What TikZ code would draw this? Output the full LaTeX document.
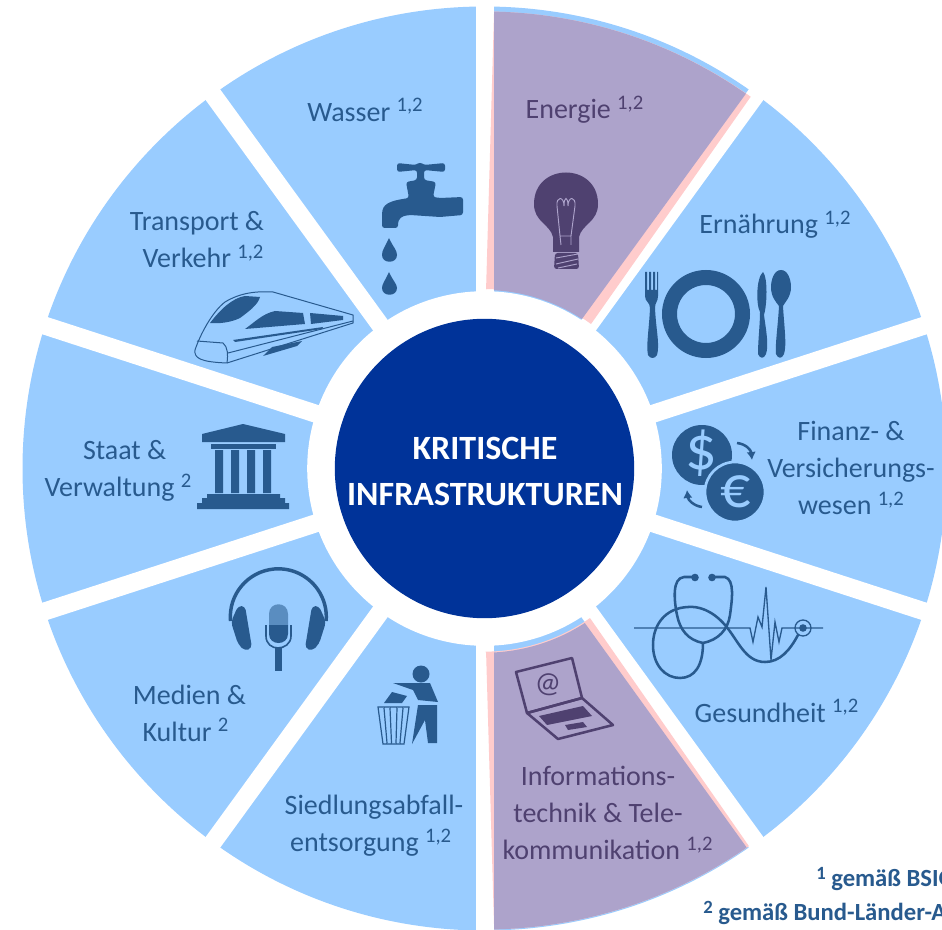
\documentclass[tikz,border=0pt]{standalone}
\usetikzlibrary{arrows.meta}
\usepackage{fontspec}
\setmainfont{Carlito}
\definecolor{seg}{HTML}{99CCFF}
\definecolor{pinkb}{HTML}{FFCCCC}
\definecolor{purp}{HTML}{ADA3CB}
\definecolor{purpd}{HTML}{4F4170}
\definecolor{ink}{HTML}{285A8E}
\definecolor{core}{HTML}{003399}
\newcommand{\hs}[1]{\raisebox{.33em}{\fontsize{15.5}{15.5}\selectfont #1}}
\tikzset{
  lbl/.style={align=center,inner sep=0pt,text=ink,font=\fontsize{21}{27.75}\selectfont},
  lblp/.style={lbl,text=purpd},
  gap/.style={white,line width=13.5pt},
  solid ink/.style={fill=ink,draw=none},
  thin ink/.style={draw=ink,line width=1.9pt,fill=none,line cap=round,line join=round},
  hair ink/.style={draw=ink,line width=.75pt,fill=none,line join=round},
  solid purp/.style={fill=purpd,draw=none},
  foot/.style={anchor=west,inner sep=0pt,text=ink,font=\bfseries\fontsize{18.5}{18.5}\selectfont},
}
\begin{document}
\begin{tikzpicture}[x=.75pt,y=-.75pt]
\useasboundingbox (0,0) rectangle (942,930);
\clip (0,0) rectangle (942,930);
\fill[white] (0,0) rectangle (942,930);
% wheel
\begin{scope}[shift={(484.5,468.5)}]
  \fill[seg] (0,0) circle[radius=462];
  \foreach \a in {90,54,18,-18,-54,-90,-126,-162,162,126} \draw[gap] (0,0) -- (\a:480);
  % Energie overlay
  \fill[pinkb] (-89.5:179) -- (-88.8:457) arc[start angle=-88.8,end angle=-54.5,radius=458.5] -- (-53.6:179.5) arc[start angle=-53.6,end angle=-89.5,radius=179.3] -- cycle;
  \fill[purp] (-86.9:178.5) -- (-88.8:457) arc[start angle=-88.8,end angle=-55.1,radius=457] -- (-56.9:178.5) arc[start angle=-56.9,end angle=-86.9,radius=178.5] -- cycle;
  % IT overlay
  \fill[pinkb] (89.5:184.5) -- (88.8:461) arc[start angle=88.8,end angle=55,radius=461] -- (54.8:183) arc[start angle=54.8,end angle=89.5,radius=184] -- cycle;
  \fill[purp] (87:184) -- (88.8:461) arc[start angle=88.8,end angle=55.3,radius=460.6] -- (57:184.2) arc[start angle=57,end angle=87,radius=184] -- cycle;
  % centre
  \fill[white] (0,0) circle[radius=177.3];
  \fill[core] (0,0) circle[radius=149.7];
\end{scope}
\node[align=center,inner sep=0pt,text=white,font=\bfseries\fontsize{25.5}{34.5}\selectfont] (centre) at (485,471) {KRITISCHE\\INFRASTRUKTUREN};
% labels
\node[lbl] (wasser) at (365,110) {Wasser \hs{1,2}};
\node[lblp] (energie) at (584.5,110) {Energie \hs{1,2}};
\node[lbl] (ernaehrung) at (775,225) {Ernährung \hs{1,2}};
\node[lbl] (transport) at (197,240) {Transport \&\\\hspace*{9pt}Verkehr \hs{1,2}};
\node[lbl] (staat) at (118,471) {\hspace*{10pt}Staat \&\\Verwaltung \hs{2}};
\node[lbl] (finanz) at (851,468) {Finanz- \&\\Versicherungs-\\wesen \hs{1,2}};
\node[lbl] (gesundheit) at (776.5,711) {Gesundheit \hs{1,2}};
\node[lblp] (info) at (598,813) {Informations-\\technik \& Tele-\\kommunikation\rlap{ \hs{1,2}}\hspace*{10pt}};
\node[lbl] (siedlung) at (374,826) {Siedlungsabfall-\\entsorgung \hs{1,2}\hspace*{5pt}};
\node[lbl] (medien) at (189.5,713) {Medien \&\\Kultur \hs{2}\hspace*{6pt}};
\node[foot] (fa) at (816,879) {\raisebox{.3em}{\fontsize{14}{14}\selectfont 1} gemäß BSIG};
\node[foot] (fb) at (703,913) {\raisebox{.3em}{\fontsize{14}{14}\selectfont 2} gemäß Bund-Länder-AG};
% tap
\fill[solid ink,rounded corners=2pt] (397,163) -- (416,165) -- (420,162) -- (424,165) -- (445,163) -- (445,172) -- (424,170) -- (424,180) -- (436,182) -- (433,197) -- (440,198) -- (463,197) -- (463,215) -- (440,217) -- (410,215) .. controls (402,216) and (398,218) .. (398,228) -- (382,228) -- (382,213) .. controls (384,202) and (396,200) .. (409,198) -- (406,182) -- (417,180) -- (417,170) -- (397,172) -- cycle;
\fill[solid ink] (389,238) .. controls (385,247) and (382,250) .. (382,255) .. controls (382,264) and (397,264) .. (397,255) .. controls (397,250) and (393,247) .. (389,238) -- cycle;
\fill[solid ink] (389,272) .. controls (385,281) and (382,284) .. (382,288) .. controls (382,297) and (397,297) .. (397,288) .. controls (397,284) and (393,281) .. (389,272) -- cycle;
% train
\draw[hair ink] (353,315) -- (273,292) .. controls (255,291) and (240,293) .. (225,302) .. controls (212,312) and (200,335) .. (195,350) .. controls (194,358) and (200,362) .. (227,363) -- (353,323) -- cycle;
\draw[hair ink] (197,341) -- (223,343) .. controls (228,347) and (228,355) .. (227,363);
\draw[hair ink] (228,353) -- (353,321);
\fill[solid ink] (210,323) .. controls (220,310) and (232,298) .. (245,296) -- (260,297) .. controls (258,305) and (248,312) .. (240,318) .. controls (232,322) and (220,324) .. (210,323) -- cycle;
\fill[solid ink] (245,329) .. controls (255,322) and (262,314) .. (275,311) -- (303,313) -- (305,324) -- cycle;
\fill[solid ink] (310,313) -- (343,316) -- (343,320) -- (311,324) -- cycle;
\fill[solid ink] (233,340) -- (323,327) -- (322,329) -- (235,342) -- cycle;
\fill[solid ink] (263,356) -- (272,347) -- (302,341) -- (297,346) -- cycle;
% bulb
\fill[solid purp] (553,237) .. controls (550,224) and (534,222) .. (534,204) .. controls (534,162) and (598,162) .. (598,204) .. controls (598,222) and (582,224) .. (579,237) -- (579,252) -- (553,252) -- cycle;
\fill[solid purp,rounded corners=2pt] (555,253) -- (578,253) -- (579,269) -- (554,269) -- cycle;
\draw[draw=purp,line width=.7pt] (560,236) -- (557,206) .. controls (556,196) and (564,196) .. (564,206) .. controls (564,196) and (568,196) .. (568,206) .. controls (568,196) and (576,196) .. (575,206) -- (571,236) -- (571,245) (560,236) -- (561,245) (560,236) -- (571,236);
\draw[draw=purp,line width=.7pt] (556,258) -- (578,254) (556,264) -- (578,259) (558,268) -- (577,264);
% cutlery
\draw[draw=ink,line width=11.25pt] (706,314) circle[radius=36.5];
\fill[solid ink] (645,272) -- (647,272) -- (647,290) -- (649,290) -- (649,272) -- (651,272) -- (651,290) -- (653,290) -- (653,272) -- (655,272) -- (655,290) -- (657,290) -- (657,272) -- (658,272) -- (658,296) .. controls (658,302) and (655,302) .. (655,308) .. controls (656,330) and (660,345) .. (657,355) .. controls (655,359) and (650,359) .. (648,355) .. controls (646,345) and (649,330) .. (650,308) .. controls (650,302) and (645,302) .. (645,296) -- cycle;
\fill[solid ink] (763,272) .. controls (768,278) and (767,305) .. (764,315) .. controls (766,330) and (769,345) .. (766,354) .. controls (764,359) and (760,359) .. (758,354) .. controls (758,340) and (760,325) .. (760,312) .. controls (756,305) and (756,278) .. (763,272) -- cycle;
\fill[solid ink] (781,270) .. controls (788,270) and (791,280) .. (791,287) .. controls (791,297) and (785,302) .. (783,306) .. controls (784,325) and (787,345) .. (784,354) .. controls (782,359) and (778,359) .. (776,354) .. controls (775,345) and (778,325) .. (779,306) .. controls (776,302) and (771,297) .. (771,287) .. controls (771,280) and (774,270) .. (781,270) -- cycle;
% coins
\fill[ink] (702,455) circle[radius=30];
\node[inner sep=0pt,text=seg,font=\fontsize{47}{47}\selectfont] (dollar) at (701,453) {\$};
\fill[ink,draw=seg,line width=2pt] (735,492) circle[radius=30];
\node[inner sep=0pt,text=seg,font=\fontsize{45}{45}\selectfont] (euro) at (736,492) {€};
\draw[draw=ink,line width=1.9pt,-{Latex[length=6pt,width=7pt]}] (737,443) .. controls (746,444) and (751,450) .. (752,460);
\draw[draw=ink,line width=1.9pt,-{Latex[length=6pt,width=7pt]}] (702,507) .. controls (694,506) and (688,500) .. (687,490);
% stethoscope
\draw[draw=ink,line width=1pt] (634,628) -- (750,628) -- (753,642) -- (758,617) -- (762,627) -- (766,587) -- (771,660) -- (775,622) -- (779,642) -- (782,628) -- (823,628);
\draw[thin ink] (798,635) .. controls (790,650) and (780,662) .. (765,662) .. controls (745,662) and (738,640) .. (725,625) .. controls (712,610) and (698,606) .. (688,607) .. controls (665,608) and (653,625) .. (653,645) .. controls (653,665) and (665,678) .. (680,678) .. controls (695,678) and (703,665) .. (703,643);
\draw[thin ink] (703,643) .. controls (688,640) and (680,630) .. (677,615) .. controls (674,600) and (672,578) .. (684,577) -- (695,577) (712,577) -- (725,577) .. controls (735,580) and (732,600) .. (730,615) .. controls (728,630) and (718,640) .. (703,643);
\fill[ink] (695,577.5) circle[radius=3.8] (712,577.5) circle[radius=3.8] (803,628) circle[radius=3.8];
\draw[draw=ink,line width=1pt] (803,628) circle[radius=8];
% laptop
\draw[draw=purpd,line width=1.9pt,line join=round] (516,672) -- (572,658) -- (582,698) -- (527,713) -- cycle;
\draw[draw=purpd,line width=1.9pt,line join=round] (527,713) -- (582,698) -- (613,725) -- (558,739) -- cycle;
\fill[solid purp] (539,716) -- (583,706) -- (592,716) -- (547,725) -- cycle;
\fill[solid purp] (565,725) -- (583,722) -- (587,727) -- (568,730) -- cycle;
\node[inner sep=0pt,text=purpd,font=\fontsize{22}{22}\selectfont] (at) at (548,685) {@};
% temple
\fill[solid ink] (202,434) -- (243,424) -- (285,434) -- (285,442) -- (202,442) -- cycle;
\fill[solid ink] (211,444) rectangle (276,449);
\fill[solid ink] (215,450) rectangle (223,493) (231,450) rectangle (239,493) (247,450) rectangle (255,493) (263,450) rectangle (271,493);
\fill[solid ink] (207,494) rectangle (280,498) (202,498) rectangle (285,503) (197,503) rectangle (289,509);
% headphones and microphone
\draw[draw=ink,line width=2.6pt] (230.5,621) arc[start angle=175,end angle=365,radius=48];
\fill[solid ink,rounded corners=3pt] (238,606) -- (245,606) -- (252,648) -- (245,651) -- (238,644) -- (231,622) -- cycle;
\fill[solid ink,rounded corners=3pt] (319,606) -- (312,606) -- (305,648) -- (312,651) -- (319,644) -- (326,622) -- cycle;
\fill[ink,opacity=.55] (269,625) -- (269,614) .. controls (269,601) and (288,601) .. (288,614) -- (288,625) -- cycle;
\fill[solid ink] (269,625) -- (288,625) -- (288,634) .. controls (288,646) and (269,646) .. (269,634) -- cycle;
\draw[draw=ink,line width=1.2pt] (266,625) -- (266,636) .. controls (266,644) and (272,648) .. (278,648) .. controls (284,648) and (291,644) .. (291,636) -- (291,625);
\fill[solid ink] (275,648) rectangle (282,671);
% litter
\fill[ink] (421,674) circle[radius=8.5];
\fill[solid ink] (393,683) -- (430,683) -- (438,702) -- (418,700) -- (413,690) -- cycle;
\fill[solid ink] (418,705) -- (437,705) -- (437,743) -- (428,743) -- (425,720) -- (412,744) -- cycle;
\fill[solid ink] (384,703) -- (392,692) -- (407,696) -- (402,703) -- cycle;
\draw[draw=ink,line width=.9pt] (378,707) -- (409,707) -- (404,744) -- (383,744) -- cycle (384,708) -- (387,743) (390,708) -- (391.5,743) (397,708) -- (396,743) (403,708) -- (400,743);
\end{tikzpicture}
\end{document}
